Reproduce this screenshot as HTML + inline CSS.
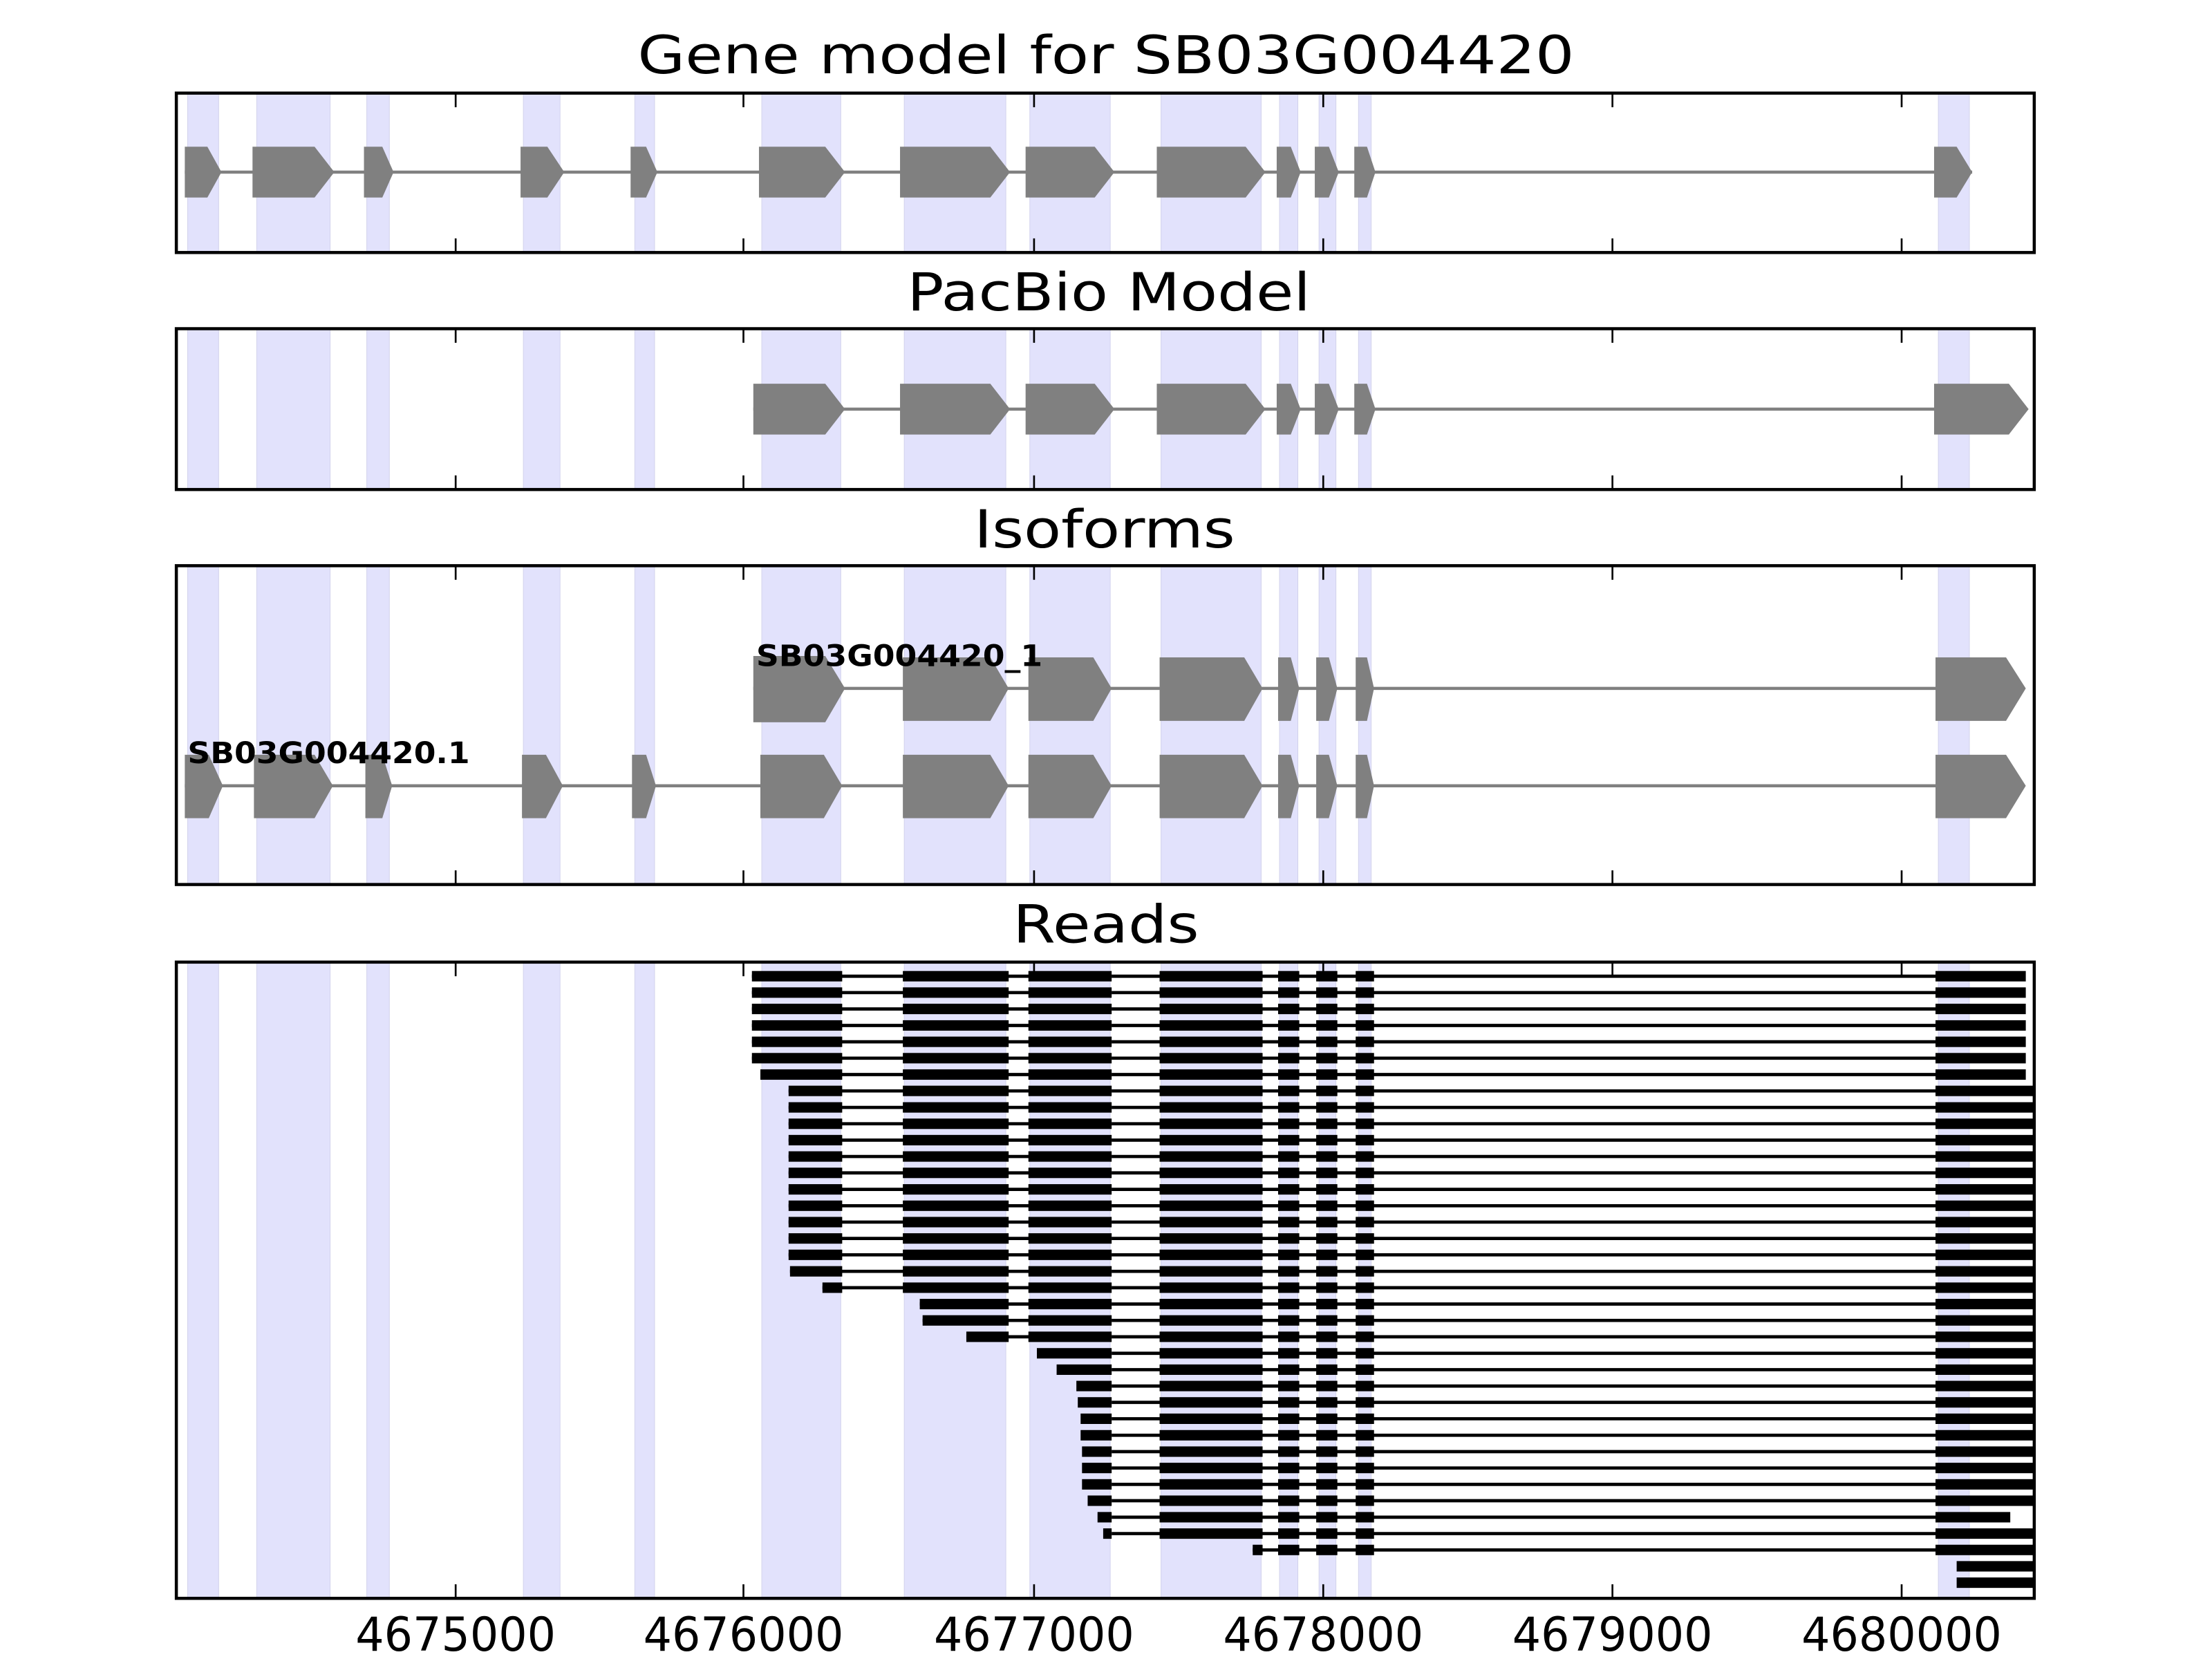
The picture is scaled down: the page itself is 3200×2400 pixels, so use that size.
<!DOCTYPE html>
<html><head><meta charset="utf-8"><style>html,body{margin:0;padding:0;background:#fff}svg{display:block}</style></head>
<body>
<svg xmlns="http://www.w3.org/2000/svg" width="3200" height="2400" viewBox="0 0 1568 1176" font-family="'DejaVu Sans','Liberation Sans',sans-serif">
<defs>
<g id="bands" fill="#e2e2fc" stroke="#d2d2ec" stroke-width="1">
<rect vector-effect="non-scaling-stroke" x="133" y="0" width="22" height="1"/>
<rect vector-effect="non-scaling-stroke" x="182" y="0" width="52" height="1"/>
<rect vector-effect="non-scaling-stroke" x="260" y="0" width="16" height="1"/>
<rect vector-effect="non-scaling-stroke" x="371" y="0" width="26" height="1"/>
<rect vector-effect="non-scaling-stroke" x="450" y="0" width="14" height="1"/>
<rect vector-effect="non-scaling-stroke" x="540" y="0" width="56" height="1"/>
<rect vector-effect="non-scaling-stroke" x="641" y="0" width="72" height="1"/>
<rect vector-effect="non-scaling-stroke" x="730" y="0" width="57" height="1"/>
<rect vector-effect="non-scaling-stroke" x="823" y="0" width="71" height="1"/>
<rect vector-effect="non-scaling-stroke" x="907" y="0" width="13" height="1"/>
<rect vector-effect="non-scaling-stroke" x="935" y="0" width="12" height="1"/>
<rect vector-effect="non-scaling-stroke" x="963" y="0" width="9" height="1"/>
<rect vector-effect="non-scaling-stroke" x="1374" y="0" width="22" height="1"/>
</g>
<g id="ticks" stroke="#000" stroke-width="1.3">
<path d="M323 0v10M527 0v10M733 0v10M938 0v10M1143 0v10M1348 0v10"/>
</g>
<g id="core">
<line x1="788" x2="1372" y1="0" y2="0" stroke="#000" stroke-width="2.3"/>
<rect x="822" y="-3.7" width="73" height="7.4"/>
<rect x="906" y="-3.7" width="15" height="7.4"/>
<rect x="933" y="-3.7" width="15" height="7.4"/>
<rect x="961" y="-3.7" width="13" height="7.4"/>
</g>
<rect id="H1" x="1372" y="-3.7" width="64" height="7.4"/>
<rect id="H2" x="1372" y="-3.7" width="70" height="7.4"/>
<rect id="B" x="640" y="-3.7" width="75" height="7.4"/>
<rect id="C" x="729" y="-3.7" width="59" height="7.4"/>
</defs>

<text x="784" y="52" font-size="37" text-anchor="middle" textLength="664" lengthAdjust="spacingAndGlyphs">Gene model for SB03G004420</text>
<text x="786" y="220" font-size="37" text-anchor="middle" textLength="286" lengthAdjust="spacingAndGlyphs">PacBio Model</text>
<text x="783" y="388" font-size="37" text-anchor="middle" textLength="185" lengthAdjust="spacingAndGlyphs">Isoforms</text>
<text x="784" y="668" font-size="37" text-anchor="middle" textLength="132" lengthAdjust="spacingAndGlyphs">Reads</text>

<use href="#bands" transform="translate(0,66) scale(1,113)"/>
<g fill="#808080">
<line x1="131" x2="1398" y1="122" y2="122" stroke="#808080" stroke-width="2.2"/>
<path d="M131 104H147L157 122L147 140H131Z"/>
<path d="M179 104H223L237 122L223 140H179Z"/>
<path d="M258 104H271L279 122L271 140H258Z"/>
<path d="M369 104H388L400 122L388 140H369Z"/>
<path d="M447 104H458L466 122L458 140H447Z"/>
<path d="M538 104H585L599 122L585 140H538Z"/>
<path d="M638 104H702L716 122L702 140H638Z"/>
<path d="M727 104H776L790 122L776 140H727Z"/>
<path d="M820 104H883L897 122L883 140H820Z"/>
<path d="M905 104H915L922 122L915 140H905Z"/>
<path d="M932 104H942L949 122L942 140H932Z"/>
<path d="M960 104H969L975 122L969 140H960Z"/>
<path d="M1371 104H1387L1398 122L1387 140H1371Z"/>
</g>
<use href="#ticks" transform="translate(0,66)"/>
<use href="#ticks" transform="translate(0,179) scale(1,-1)"/>
<rect x="125" y="66" width="1317" height="113" fill="none" stroke="#000" stroke-width="2.2"/>

<use href="#bands" transform="translate(0,233) scale(1,114)"/>
<g fill="#808080">
<line x1="534" x2="1430" y1="290" y2="290" stroke="#808080" stroke-width="2.2"/>
<path d="M534 272H585L599 290L585 308H534Z"/>
<path d="M638 272H702L716 290L702 308H638Z"/>
<path d="M727 272H776L790 290L776 308H727Z"/>
<path d="M820 272H883L897 290L883 308H820Z"/>
<path d="M905 272H915L922 290L915 308H905Z"/>
<path d="M932 272H942L949 290L942 308H932Z"/>
<path d="M960 272H969L975 290L969 308H960Z"/>
<path d="M1371 272H1424L1438 290L1424 308H1371Z"/>
</g>
<use href="#ticks" transform="translate(0,233)"/>
<use href="#ticks" transform="translate(0,347) scale(1,-1)"/>
<rect x="125" y="233" width="1317" height="114" fill="none" stroke="#000" stroke-width="2.2"/>

<use href="#bands" transform="translate(0,401) scale(1,226)"/>
<g fill="#808080">
<line x1="534" x2="1430" y1="488" y2="488" stroke="#808080" stroke-width="2.2"/>
<path d="M534 465H585L599 488L585 512H534Z"/>
<path d="M640 466H702L715 488L702 511H640Z"/>
<path d="M729 466H775L788 488L775 511H729Z"/>
<path d="M822 466H882L895 488L882 511H822Z"/>
<path d="M906 466H915L921 488L915 511H906Z"/>
<path d="M933 466H942L948 488L942 511H933Z"/>
<path d="M961 466H969L974 488L969 511H961Z"/>
<path d="M1372 466H1422L1436 488L1422 511H1372Z"/>
<line x1="131" x2="1430" y1="557" y2="557" stroke="#808080" stroke-width="2.2"/>
<path d="M131 535H148L158 557L148 580H131Z"/>
<path d="M180 535H223L236 557L223 580H180Z"/>
<path d="M259 535H271L278 557L271 580H259Z"/>
<path d="M370 535H387L399 557L387 580H370Z"/>
<path d="M448 535H458L465 557L458 580H448Z"/>
<path d="M539 535H584L597 557L584 580H539Z"/>
<path d="M640 535H702L715 557L702 580H640Z"/>
<path d="M729 535H775L788 557L775 580H729Z"/>
<path d="M822 535H882L895 557L882 580H822Z"/>
<path d="M906 535H915L921 557L915 580H906Z"/>
<path d="M933 535H942L948 557L942 580H933Z"/>
<path d="M961 535H969L974 557L969 580H961Z"/>
<path d="M1372 535H1422L1436 557L1422 580H1372Z"/>
</g>
<text x="536" y="472" font-size="21" font-weight="bold" textLength="203" lengthAdjust="spacingAndGlyphs">SB03G004420_1</text>
<text x="133" y="541" font-size="21" font-weight="bold" textLength="200" lengthAdjust="spacingAndGlyphs">SB03G004420.1</text>
<use href="#ticks" transform="translate(0,401)"/>
<use href="#ticks" transform="translate(0,627) scale(1,-1)"/>
<rect x="125" y="401" width="1317" height="226" fill="none" stroke="#000" stroke-width="2.2"/>

<use href="#bands" transform="translate(0,682) scale(1,451)"/>
<g fill="#000" stroke="none">
<g transform="translate(0,692)"><line x1="533" x2="788" stroke="#000" stroke-width="2.3"/><rect x="533" y="-3.7" width="64" height="7.4"/><use href="#B"/><use href="#C"/><use href="#core"/><use href="#H1"/></g>
<g transform="translate(0,703.6)"><line x1="533" x2="788" stroke="#000" stroke-width="2.3"/><rect x="533" y="-3.7" width="64" height="7.4"/><use href="#B"/><use href="#C"/><use href="#core"/><use href="#H1"/></g>
<g transform="translate(0,715.2)"><line x1="533" x2="788" stroke="#000" stroke-width="2.3"/><rect x="533" y="-3.7" width="64" height="7.4"/><use href="#B"/><use href="#C"/><use href="#core"/><use href="#H1"/></g>
<g transform="translate(0,726.9)"><line x1="533" x2="788" stroke="#000" stroke-width="2.3"/><rect x="533" y="-3.7" width="64" height="7.4"/><use href="#B"/><use href="#C"/><use href="#core"/><use href="#H1"/></g>
<g transform="translate(0,738.5)"><line x1="533" x2="788" stroke="#000" stroke-width="2.3"/><rect x="533" y="-3.7" width="64" height="7.4"/><use href="#B"/><use href="#C"/><use href="#core"/><use href="#H1"/></g>
<g transform="translate(0,750.1)"><line x1="533" x2="788" stroke="#000" stroke-width="2.3"/><rect x="533" y="-3.7" width="64" height="7.4"/><use href="#B"/><use href="#C"/><use href="#core"/><use href="#H1"/></g>
<g transform="translate(0,761.7)"><line x1="539" x2="788" stroke="#000" stroke-width="2.3"/><rect x="539" y="-3.7" width="58" height="7.4"/><use href="#B"/><use href="#C"/><use href="#core"/><use href="#H1"/></g>
<g transform="translate(0,773.3)"><line x1="559" x2="788" stroke="#000" stroke-width="2.3"/><rect x="559" y="-3.7" width="38" height="7.4"/><use href="#B"/><use href="#C"/><use href="#core"/><use href="#H2"/></g>
<g transform="translate(0,785.0)"><line x1="559" x2="788" stroke="#000" stroke-width="2.3"/><rect x="559" y="-3.7" width="38" height="7.4"/><use href="#B"/><use href="#C"/><use href="#core"/><use href="#H2"/></g>
<g transform="translate(0,796.6)"><line x1="559" x2="788" stroke="#000" stroke-width="2.3"/><rect x="559" y="-3.7" width="38" height="7.4"/><use href="#B"/><use href="#C"/><use href="#core"/><use href="#H2"/></g>
<g transform="translate(0,808.2)"><line x1="559" x2="788" stroke="#000" stroke-width="2.3"/><rect x="559" y="-3.7" width="38" height="7.4"/><use href="#B"/><use href="#C"/><use href="#core"/><use href="#H2"/></g>
<g transform="translate(0,819.8)"><line x1="559" x2="788" stroke="#000" stroke-width="2.3"/><rect x="559" y="-3.7" width="38" height="7.4"/><use href="#B"/><use href="#C"/><use href="#core"/><use href="#H2"/></g>
<g transform="translate(0,831.4)"><line x1="559" x2="788" stroke="#000" stroke-width="2.3"/><rect x="559" y="-3.7" width="38" height="7.4"/><use href="#B"/><use href="#C"/><use href="#core"/><use href="#H2"/></g>
<g transform="translate(0,843.1)"><line x1="559" x2="788" stroke="#000" stroke-width="2.3"/><rect x="559" y="-3.7" width="38" height="7.4"/><use href="#B"/><use href="#C"/><use href="#core"/><use href="#H2"/></g>
<g transform="translate(0,854.7)"><line x1="559" x2="788" stroke="#000" stroke-width="2.3"/><rect x="559" y="-3.7" width="38" height="7.4"/><use href="#B"/><use href="#C"/><use href="#core"/><use href="#H2"/></g>
<g transform="translate(0,866.3)"><line x1="559" x2="788" stroke="#000" stroke-width="2.3"/><rect x="559" y="-3.7" width="38" height="7.4"/><use href="#B"/><use href="#C"/><use href="#core"/><use href="#H2"/></g>
<g transform="translate(0,877.9)"><line x1="559" x2="788" stroke="#000" stroke-width="2.3"/><rect x="559" y="-3.7" width="38" height="7.4"/><use href="#B"/><use href="#C"/><use href="#core"/><use href="#H2"/></g>
<g transform="translate(0,889.5)"><line x1="559" x2="788" stroke="#000" stroke-width="2.3"/><rect x="559" y="-3.7" width="38" height="7.4"/><use href="#B"/><use href="#C"/><use href="#core"/><use href="#H2"/></g>
<g transform="translate(0,901.2)"><line x1="560" x2="788" stroke="#000" stroke-width="2.3"/><rect x="560" y="-3.7" width="37" height="7.4"/><use href="#B"/><use href="#C"/><use href="#core"/><use href="#H2"/></g>
<g transform="translate(0,912.8)"><line x1="583" x2="788" stroke="#000" stroke-width="2.3"/><rect x="583" y="-3.7" width="14" height="7.4"/><use href="#B"/><use href="#C"/><use href="#core"/><use href="#H2"/></g>
<g transform="translate(0,924.4)"><rect x="652" y="-3.7" width="63" height="7.4"/><line x1="652" x2="788" stroke="#000" stroke-width="2.3"/><use href="#C"/><use href="#core"/><use href="#H2"/></g>
<g transform="translate(0,936.0)"><rect x="654" y="-3.7" width="61" height="7.4"/><line x1="654" x2="788" stroke="#000" stroke-width="2.3"/><use href="#C"/><use href="#core"/><use href="#H2"/></g>
<g transform="translate(0,947.6)"><rect x="685" y="-3.7" width="30" height="7.4"/><line x1="685" x2="788" stroke="#000" stroke-width="2.3"/><use href="#C"/><use href="#core"/><use href="#H2"/></g>
<g transform="translate(0,959.3)"><rect x="735" y="-3.7" width="53" height="7.4"/><use href="#core"/><use href="#H2"/></g>
<g transform="translate(0,970.9)"><rect x="749" y="-3.7" width="39" height="7.4"/><use href="#core"/><use href="#H2"/></g>
<g transform="translate(0,982.5)"><rect x="763" y="-3.7" width="25" height="7.4"/><use href="#core"/><use href="#H2"/></g>
<g transform="translate(0,994.1)"><rect x="764" y="-3.7" width="24" height="7.4"/><use href="#core"/><use href="#H2"/></g>
<g transform="translate(0,1005.7)"><rect x="766" y="-3.7" width="22" height="7.4"/><use href="#core"/><use href="#H2"/></g>
<g transform="translate(0,1017.4)"><rect x="766" y="-3.7" width="22" height="7.4"/><use href="#core"/><use href="#H2"/></g>
<g transform="translate(0,1029.0)"><rect x="767" y="-3.7" width="21" height="7.4"/><use href="#core"/><use href="#H2"/></g>
<g transform="translate(0,1040.6)"><rect x="767" y="-3.7" width="21" height="7.4"/><use href="#core"/><use href="#H2"/></g>
<g transform="translate(0,1052.2)"><rect x="767" y="-3.7" width="21" height="7.4"/><use href="#core"/><use href="#H2"/></g>
<g transform="translate(0,1063.8)"><rect x="771" y="-3.7" width="17" height="7.4"/><use href="#core"/><use href="#H2"/></g>
<g transform="translate(0,1075.5)"><rect x="778" y="-3.7" width="10" height="7.4"/><use href="#core"/><rect x="1372" y="-3.7" width="53" height="7.4"/></g>
<g transform="translate(0,1087.1)"><rect x="782" y="-3.7" width="6" height="7.4"/><use href="#core"/><use href="#H2"/></g>
<g transform="translate(0,1098.7)"><line x1="888" x2="1372" stroke="#000" stroke-width="2.3"/><rect x="888" y="-3.7" width="7" height="7.4"/><rect x="906" y="-3.7" width="15" height="7.4"/><rect x="933" y="-3.7" width="15" height="7.4"/><rect x="961" y="-3.7" width="13" height="7.4"/><use href="#H2"/></g>
<rect x="1387" y="1106.6" width="55" height="7.4"/>
<rect x="1387" y="1118.2" width="55" height="7.4"/>
</g>
<use href="#ticks" transform="translate(0,682)"/>
<use href="#ticks" transform="translate(0,1133) scale(1,-1)"/>
<rect x="125" y="682" width="1317" height="451" fill="none" stroke="#000" stroke-width="2.2"/>

<g font-size="33" text-anchor="middle">
<text x="323" y="1170" textLength="142" lengthAdjust="spacingAndGlyphs">4675000</text>
<text x="527" y="1170" textLength="142" lengthAdjust="spacingAndGlyphs">4676000</text>
<text x="733" y="1170" textLength="142" lengthAdjust="spacingAndGlyphs">4677000</text>
<text x="938" y="1170" textLength="142" lengthAdjust="spacingAndGlyphs">4678000</text>
<text x="1143" y="1170" textLength="142" lengthAdjust="spacingAndGlyphs">4679000</text>
<text x="1348" y="1170" textLength="142" lengthAdjust="spacingAndGlyphs">4680000</text>
</g>
</svg>
</body></html>
